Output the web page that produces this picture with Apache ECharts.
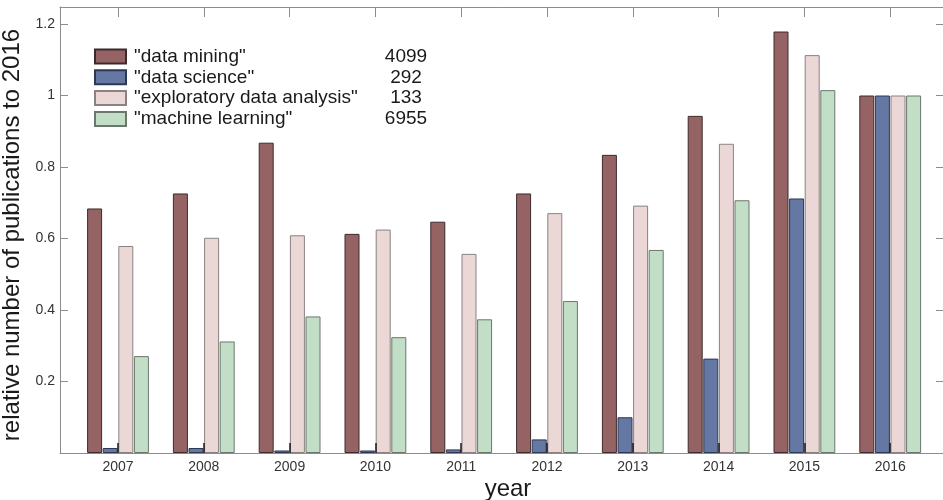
<!DOCTYPE html>
<html>
<head>
<meta charset="utf-8">
<script src="https://cdn.jsdelivr.net/npm/echarts@6/dist/echarts.min.js"></script>
<style>
html,body{margin:0;padding:0;background:#fff;}
#chart{width:943px;height:500px;}
</style>
</head>
<body>
<div id="chart"></div>
<script>
// ---- data ----
var years = ['2007','2008','2009','2010','2011','2012','2013','2014','2015','2016'];
var seriesNames = ['"data mining"', '"data science"', '"exploratory data analysis"', '"machine learning"'];
var totals = ['4099', '292', '133', '6955'];
var dataMining      = [0.684, 0.726, 0.868, 0.613, 0.647, 0.726, 0.834, 0.943, 1.179, 1.0];
var dataScience     = [0.014, 0.014, 0.007, 0.007, 0.010, 0.038, 0.100, 0.264, 0.712, 1.0];
var exploratoryData = [0.579, 0.602, 0.609, 0.625, 0.557, 0.671, 0.692, 0.865, 1.113, 1.0];
var machineLearning = [0.271, 0.312, 0.382, 0.324, 0.374, 0.425, 0.568, 0.707, 1.015, 1.0];
var yTicks = [0.2, 0.4, 0.6, 0.8, 1, 1.2];

// ---- styles ----
var fills   = ['#966365', '#6577a3', '#ecd7d7', '#c3dec6'];
var borders = ['#3d2b2c', '#2e3852', '#8a8282', '#6b776d'];
var YMAX = 1.2476;
var FONT = '"Liberation Sans", Arial, Helvetica, sans-serif';
var axisGray = '#8c8c8c';

var values = [dataMining, dataScience, exploratoryData, machineLearning];
var totalsByName = {};
seriesNames.forEach(function (n, i) { totalsByName[n] = totals[i]; });

var chart = echarts.init(document.getElementById('chart'), null, {renderer: 'canvas'});

var series = seriesNames.map(function (name, i) {
  return {
    name: name,
    type: 'bar',
    xAxisIndex: 2,
    yAxisIndex: 2,
    data: values[i],
    barWidth: 15,
    barGap: '4%',
    itemStyle: { color: fills[i], borderColor: borders[i], borderWidth: 1 },
    emphasis: { disabled: true },
    z: 2
  };
});

function frameAxisLine() {
  return { show: true, onZero: false, lineStyle: { color: axisGray, width: 1 } };
}

chart.setOption({
  animation: false,
  backgroundColor: '#fff',
  textStyle: { fontFamily: FONT },
  grid: [
    { left: 60, top: 7, width: 884, height: 446, containLabel: false, outerBoundsMode: 'none' },
    { left: 75.1, top: 7, width: 858, height: 446, containLabel: false, outerBoundsMode: 'none' }
  ],
  legend: {
    orient: 'vertical',
    left: 94,
    top: 47,
    padding: 0,
    itemWidth: 31,
    itemHeight: 14,
    itemGap: 1.8,
    icon: 'rect',
    selectedMode: false,
    data: seriesNames,
    formatter: function (name) {
      return '{a|' + name + '}{b|' + totalsByName[name] + '}';
    },
    textStyle: {
      fontFamily: FONT,
      fontSize: 19,
      color: '#1a1a1a',
      rich: {
        a: { fontFamily: FONT, fontSize: 19, width: 246, color: '#1a1a1a', padding: [0, 0, 0, 3] },
        b: { fontFamily: FONT, fontSize: 19, width: 52, align: 'center', color: '#1a1a1a' }
      }
    }
  },
  xAxis: [
    {
      type: 'value', gridIndex: 0, position: 'bottom', min: 0, max: 1,
      axisLine: frameAxisLine(),
      axisTick: { show: false }, axisLabel: { show: false }, splitLine: { show: false },
      name: 'year', nameLocation: 'middle', nameGap: 24,
      nameTextStyle: { fontFamily: FONT, fontSize: 24, color: '#1a1a1a', padding: [0, 0, 0, 12] },
      z: 4
    },
    {
      type: 'value', gridIndex: 0, position: 'top', min: 0, max: 1,
      axisLine: frameAxisLine(),
      axisTick: { show: false }, axisLabel: { show: false }, splitLine: { show: false },
      z: 4
    },
    {
      type: 'category', gridIndex: 1, position: 'bottom', data: years,
      axisLine: { show: false, onZero: false },
      axisTick: { show: true, inside: true, alignWithLabel: true, length: 10, lineStyle: { color: '#1a1a1a', width: 1.5 } },
      axisLabel: { fontFamily: FONT, fontSize: 14, color: '#333', margin: 7 },
      splitLine: { show: false },
      z: 5
    },
    {
      type: 'category', gridIndex: 1, position: 'top', data: years,
      axisLine: { show: false, onZero: false },
      axisTick: { show: true, inside: true, alignWithLabel: true, length: 10, lineStyle: { color: axisGray, width: 1 } },
      axisLabel: { show: false },
      splitLine: { show: false },
      z: 5
    }
  ],
  yAxis: [
    {
      type: 'value', gridIndex: 0, position: 'left', min: 0, max: YMAX, interval: 0.2,
      axisLine: frameAxisLine(),
      axisTick: { show: true, inside: true, length: 8, lineStyle: { color: axisGray } },
      axisLabel: {
        fontFamily: FONT, fontSize: 14, color: '#333', margin: 5,
        showMaxLabel: false, showMinLabel: false,
        formatter: function (v) {
          for (var i = 0; i < yTicks.length; i++) {
            if (Math.abs(v - yTicks[i]) < 1e-6) return String(yTicks[i]);
          }
          return '';
        }
      },
      splitLine: { show: false },
      name: 'relative number of publications to 2016', nameLocation: 'middle', nameGap: 28,
      nameTextStyle: { fontFamily: FONT, fontSize: 24, color: '#1a1a1a', padding: [0, 10, 0, 0] },
      z: 4
    },
    {
      type: 'value', gridIndex: 0, position: 'right', min: 0, max: YMAX, interval: 0.2,
      axisLine: frameAxisLine(),
      axisTick: { show: true, inside: true, length: 8, lineStyle: { color: axisGray } },
      axisLabel: { show: false }, splitLine: { show: false },
      z: 4
    },
    {
      type: 'value', gridIndex: 1, min: 0, max: YMAX, show: false, splitLine: { show: false }
    }
  ],
  series: series
});
</script>
</body>
</html>
